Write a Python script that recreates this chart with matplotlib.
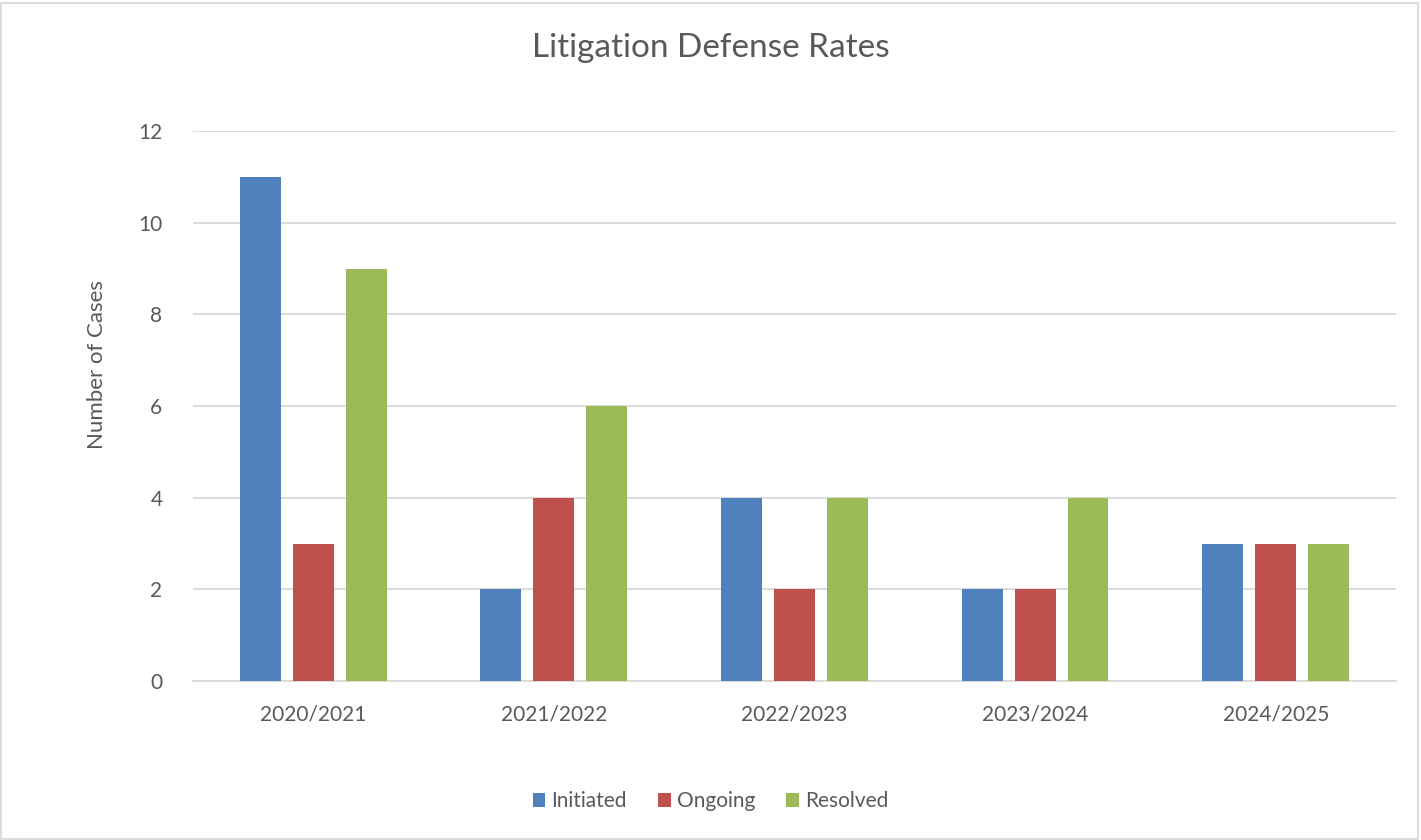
import numpy as np
import matplotlib
matplotlib.use("Agg")
import matplotlib.pyplot as plt
from matplotlib.patches import Rectangle

seasons = ["2020/2021", "2021/2022", "2022/2023", "2023/2024", "2024/2025"]
initiated = [11, 2, 4, 2, 3]
ongoing = [3, 4, 2, 2, 3]
resolved = [9, 6, 4, 4, 3]

colors = ["#4f81bd", "#c0504d", "#9bbb59"]
txt = "#595959"
plt.rcParams["font.family"] = ["Lato", "DejaVu Sans"]

fig = plt.figure(figsize=(14.21, 8.4), dpi=100)
ax = fig.add_axes([0.1358, 0.1893, 0.8466, 0.6547])

x = np.arange(len(seasons))
w = 0.17
step = 0.22
for i, (vals, name) in enumerate(zip([initiated, ongoing, resolved],
                                     ["Initiated", "Ongoing", "Resolved"])):
    ax.bar(x + (i - 1) * step, vals, width=w, color=colors[i], label=name, zorder=3)

ax.set_xlim(-0.5, len(seasons) - 0.5)
ax.set_ylim(0, 12)
ax.set_yticks(range(0, 13, 2))
ax.set_xticks(x)
ax.set_xticklabels(seasons)
ax.yaxis.grid(True, color="#d9d9d9", linewidth=1.3, zorder=0)
for s in ["top", "right", "left"]:
    ax.spines[s].set_visible(False)
ax.spines["bottom"].set_color("#d9d9d9")
ax.spines["bottom"].set_linewidth(1.3)
ax.tick_params(length=0, labelsize=15, labelcolor=txt)
ax.tick_params(axis="x", pad=17)
ax.tick_params(axis="y", pad=22)
ax.set_ylabel("Number of Cases", fontsize=16, color=txt, va="center")
ax.yaxis.set_label_coords(-0.08, 0.576)

fig.text(0.5, 0.943, "Litigation Defense Rates", ha="center", va="center",
         fontsize=24, color=txt)

fig.legend(loc="center", bbox_to_anchor=(0.5, 0.046), ncol=3, frameon=False,
           fontsize=15, labelcolor=txt, handlelength=0.6, handleheight=0.6,
           handletextpad=0.3, columnspacing=1.5)

fig.patches.append(Rectangle((0.001, 0.001), 0.997, 0.996, transform=fig.transFigure,
                             fill=False, edgecolor="#d9d9d9", linewidth=1.3))

fig.savefig("out.png", dpi=100)
